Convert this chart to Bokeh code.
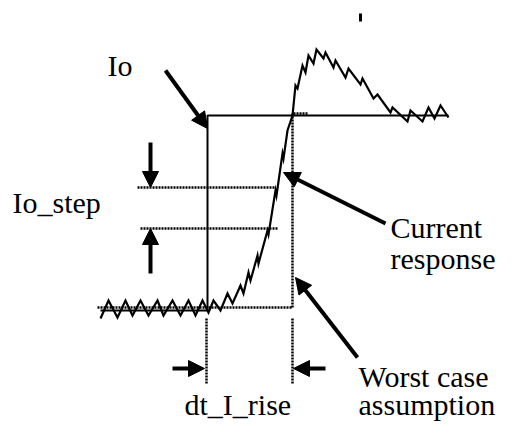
from bokeh.plotting import figure
from bokeh.models import Range1d, Arrow, NormalHead, ColumnDataSource
from bokeh.core.properties import value
from bokeh.embed import file_html
from bokeh.resources import INLINE

# ---- data (time on x, current on y; y grows downward as in the drawing) ----
# measured current response (ripple on the low level, rise, overshoot, settling)
resp_t = [100, 108, 117, 125, 132, 140, 148, 157, 163, 172, 180, 188, 195, 202, 208,
          213, 220, 227, 232, 240, 243, 248, 250, 257, 258, 267, 268, 275, 276, 282,
          283, 287, 292, 295, 297, 302, 305, 308, 313, 316, 323, 325, 333, 335, 345,
          348, 360, 362, 373, 377, 390, 392, 407, 410, 422, 428, 434, 440, 448]
resp_i = [318, 300, 317, 300, 315, 300, 315, 300, 315, 300, 315, 300, 315, 300, 312,
          300, 310, 293, 303, 285, 293, 272, 280, 255, 263, 230, 234, 190, 195, 153,
          158, 130, 115, 85, 88, 65, 72, 55, 63, 49, 58, 52, 67, 60, 77,
          68, 84, 78, 98, 94, 112, 107, 121, 110, 121, 107, 118, 105, 117]

# ideal load step Io
step_t = [100, 207, 207, 448]
step_i = [310, 310, 115, 115]

# worst case assumption (dotted)
worst_t = [97, 292, 292, 308]
worst_i = [307, 307, 113, 113]

# Io_step level markers (dotted)
lvl_i = [187, 228]
lvl_t0 = [137, 140]
lvl_t1 = [275, 278]

# dt_I_rise markers (dotted verticals)
mark_t = [206, 292]
mark_i0 = [318, 318]
mark_i1 = [383, 383]

# arrows: start -> end (tip)
arr_x0 = [165, 150, 150, 385, 357, 172, 325]
arr_y0 = [70, 142, 273, 223, 357, 368, 368]
arr_x1 = [207, 150, 150, 283, 295, 204, 293]
arr_y1 = [128, 187, 228, 172, 277, 368, 368]

# labels (left x, vertical middle y)
lab_text = ["Io", "Io_step", "Current", "response", "dt_I_rise", "Worst case", "assumption"]
lab_x = [107, 12, 390, 390, 184, 358, 358]
lab_y = [65, 202, 227, 258, 404, 376, 404]

# small tick mark at top
tick_t = [360, 360]
tick_i = [13, 21]

p = figure(width=496, height=422, x_range=Range1d(0, 496), y_range=Range1d(422, 0),
           output_backend="svg", toolbar_location=None, title=None,
           x_axis_location=None, y_axis_location=None,
           min_border=0, min_border_left=0, min_border_right=0,
           min_border_top=0, min_border_bottom=0)
p.grid.visible = False
p.outline_line_color = None
p.background_fill_color = "white"
p.border_fill_color = "white"

# dotted guides
p.line(worst_t, worst_i, line_color="black", line_width=2.5, line_dash="2 1")
p.segment(x0=lvl_t0, y0=lvl_i, x1=lvl_t1, y1=lvl_i, line_color="black",
          line_width=2.5, line_dash="2 1")
p.segment(x0=mark_t, y0=mark_i0, x1=mark_t, y1=mark_i1, line_color="black",
          line_width=2.5, line_dash="2 1")

# ideal step
p.line(step_t, step_i, line_color="black", line_width=2)

# response
p.line(resp_t, resp_i, line_color="black", line_width=2.2, line_join="miter")

# tick
p.line(tick_t, tick_i, line_color="black", line_width=3)

# arrows
asrc = ColumnDataSource(dict(x0=arr_x0, y0=arr_y0, x1=arr_x1, y1=arr_y1))
p.add_layout(Arrow(end=NormalHead(size=16, fill_color="black", line_color="black"),
                   source=asrc, x_start="x0", y_start="y0", x_end="x1", y_end="y1",
                   line_width=4, line_color="black"))

# texts
p.text(x=lab_x, y=lab_y, text=lab_text, text_font=value("Liberation Serif"),
       text_font_size="30px", text_color="black", text_baseline="middle",
       text_align="left")

open("out.html", "w").write(file_html(p, INLINE))
